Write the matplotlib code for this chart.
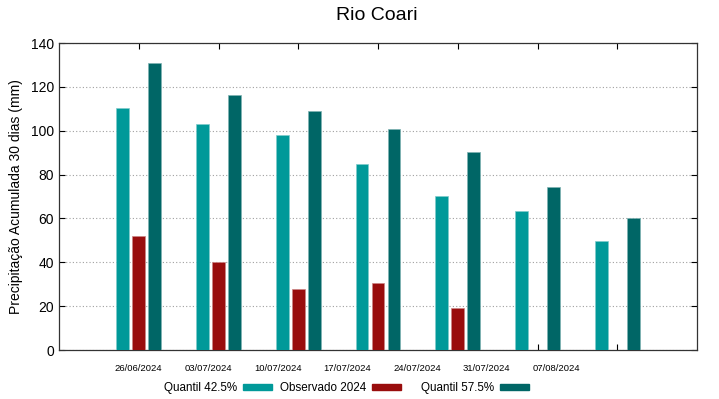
import numpy as np
import matplotlib.pyplot as plt
from matplotlib.patches import Patch

plt.rcParams['font.family'] = ['Liberation Sans', 'DejaVu Sans']

datas = ['26/06/2024', '03/07/2024', '10/07/2024', '17/07/2024',
         '24/07/2024', '31/07/2024', '07/08/2024']
q425 = [110.4, 103.2, 98.0, 85.0, 70.4, 63.2, 49.7]
obs2024 = [51.8, 40.3, 27.8, 30.4, 19.2, np.nan, np.nan]
q575 = [130.9, 116.3, 109.0, 100.9, 90.4, 74.5, 60.2]

c_q425 = '#009999'
c_obs = '#990d0d'
c_q575 = '#006666'

fig = plt.figure(figsize=(7.19, 3.99), dpi=100)
ax = fig.add_axes([59 / 719, 1 - 350 / 399, 638 / 719, 307 / 399])

x = np.arange(1, len(datas) + 1)
w = 0.16
ax.bar(x - 0.2, q425, w, color=c_q425, edgecolor='#7fcccc', linewidth=0.5, zorder=3)
ax.bar(x, obs2024, w, color=c_obs, edgecolor='#cc8686', linewidth=0.5, zorder=3)
ax.bar(x + 0.2, q575, w, color=c_q575, edgecolor='#7fb2b2', linewidth=0.5, zorder=3)

ax.set_xlim(0, 8)
ax.set_ylim(0, 140)
ax.set_yticks(np.arange(0, 141, 20))
ax.grid(axis='y', linestyle=(0, (1, 2)), color='#a0a0a0', linewidth=0.8, zorder=0)

# major ticks at bar groups, labels drawn on minor ticks (gnuplot-like offset)
ax.xaxis.remove_overlapping_locs = False
ax.set_xticks(x)
ax.set_xticklabels([])
ax.set_xticks(1 + np.arange(len(datas)) * 0.872, minor=True)
ax.set_xticklabels(datas, minor=True, fontsize=6.8)
ax.tick_params(axis='x', which='major', direction='in', top=True, bottom=True, length=4, width=0.8)
ax.tick_params(axis='x', which='minor', length=0, pad=10)
ax.tick_params(axis='y', direction='in', left=True, right=True, length=4, width=0.8, labelsize=10)

for s in ax.spines.values():
    s.set_linewidth(0.9)
    s.set_color('#333333')

ax.set_ylabel('Precipitação Acumulada 30 dias (mm)', fontsize=10, labelpad=6)
fig.text(377 / 719, 1 - 16 / 399, 'Rio Coari', ha='center', va='center', fontsize=14)

# gnuplot-style key: text followed by sample, fixed-width columns
labels = ['Quantil 42.5%', 'Observado 2024', 'Quantil 57.5%']
colors = [c_q425, c_obs, c_q575]
key_right = [272, 401, 529]
for lab, col, xr in zip(labels, colors, key_right):
    leg = fig.legend([Patch(color=col)], [lab], markerfirst=False, frameon=False,
                     loc='center right', bbox_to_anchor=(xr / 719, 1 - 388 / 399),
                     fontsize=8.4, handlelength=2.5, handleheight=0.5,
                     handletextpad=0.5, borderpad=0, borderaxespad=0)

fig.savefig('out.png', dpi=100)
